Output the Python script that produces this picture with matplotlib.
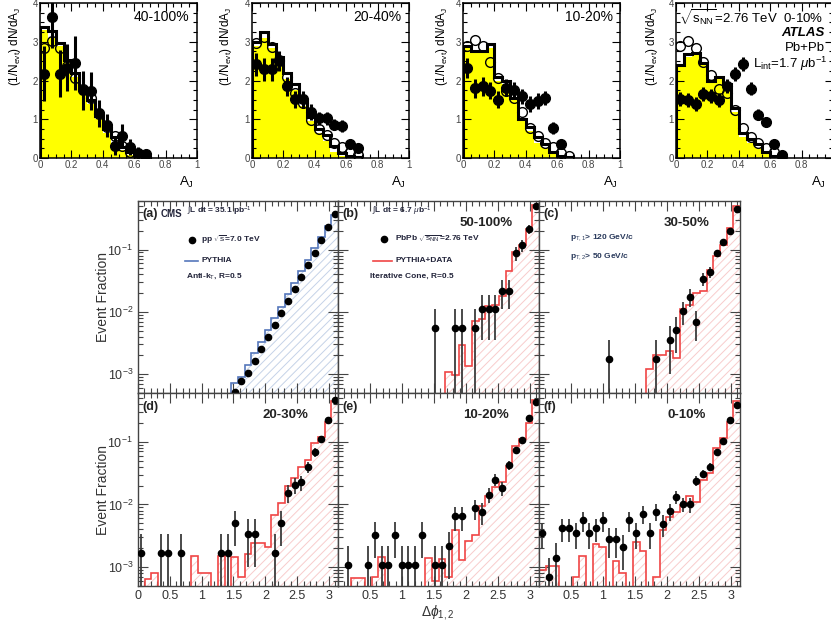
import numpy as np
import matplotlib
matplotlib.use('Agg')
import matplotlib.pyplot as plt
from matplotlib.ticker import MultipleLocator, LogLocator, NullFormatter

plt.rcParams['font.family'] = ['Liberation Sans', 'DejaVu Sans']
plt.rcParams['mathtext.fontset'] = 'custom'
plt.rcParams['mathtext.rm'] = 'Liberation Sans'
plt.rcParams['mathtext.it'] = 'Liberation Sans:italic'
plt.rcParams['mathtext.bf'] = 'Liberation Sans:bold'
plt.rcParams['hatch.linewidth'] = 0.7

W, H = 831, 626

# ---------------- ATLAS dijet asymmetry A_J (top row)
aj_edges = np.linspace(0, 0.7, 15)
atlas_cent = ['40-100%', '20-40%', '10-20%', '0-10%']

pbpb_1 = [2.18, 3.64, 2.18, 2.33, 2.46, 1.75, 1.73, 1.15, 0.84, 0.32, 0.58, 0.28, 0.13, 0.11]
pbpb_err_1 = [0.7, 0.8, 0.6, 0.6, 0.7, 0.5, 0.5, 0.35, 0.3, 0.25, 0.3, 0.2, 0.15, 0.1]
pbpb_2 = [2.42, 2.29, 2.29, 2.50, 1.85, 1.51, 1.51, 1.19, 1.02, 1.02, 0.86, 0.82, 0.37, 0.26]
pbpb_err_2 = [0.3, 0.3, 0.3, 0.25, 0.25, 0.22, 0.22, 0.2, 0.18, 0.18, 0.15, 0.15, 0.12, 0.1]
pbpb_3 = [2.32, 1.80, 1.85, 1.73, 1.50, 1.81, 1.76, 1.59, 1.40, 1.47, 1.55, 0.78, 0.35]
pbpb_err_3 = [0.25, 0.25, 0.25, 0.22, 0.22, 0.22, 0.2, 0.2, 0.2, 0.2, 0.18, 0.15, 0.12]
pbpb_4 = [1.53, 1.49, 1.40, 1.64, 1.59, 1.49, 1.87, 2.17, 2.43, 1.79, 1.12, 0.93, 0.37, 0.09]
pbpb_err_4 = [0.18, 0.18, 0.18, 0.18, 0.18, 0.18, 0.18, 0.18, 0.18, 0.16, 0.14, 0.14, 0.1, 0.06]

pp_1 = [2.85, 3.03, 2.85, 2.38, 2.06, 1.78, 1.56, 1.14, 0.81, 0.56, 0.32, 0.15, 0.09, 0.01]
pp_2 = [2.96, 3.13, 2.87, 2.53, 2.08, 1.68, 1.41, 0.97, 0.76, 0.59, 0.39, 0.28, 0.16, 0.07]
pp_3 = [2.90, 3.05, 2.88, 2.47, 2.06, 1.74, 1.55, 1.18, 0.78, 0.58, 0.39, 0.28, 0.13, 0.05]
pp_4 = [2.88, 3.03, 2.84, 2.47, 2.13, 1.79, 1.67, 1.23, 0.78, 0.54, 0.39, 0.26, 0.15, 0.04]

pythia_1 = [3.38, 3.27, 2.97, 2.52, 2.20, 1.80, 1.50, 1.09, 0.75, 0.54, 0.28, 0.15, 0.07, 0.03]
pythia_2 = [3.00, 3.25, 2.95, 2.60, 2.20, 1.90, 1.50, 1.05, 0.75, 0.60, 0.30, 0.12, 0.05, 0.02]
pythia_3 = [2.90, 2.75, 2.75, 2.93, 2.10, 2.00, 1.55, 1.00, 0.80, 0.55, 0.35, 0.15, 0.05, 0.02]
pythia_4 = [2.40, 2.68, 2.72, 2.45, 2.00, 2.10, 1.90, 1.30, 0.65, 0.50, 0.35, 0.15, 0.05, 0.02]

hijing_1 = [3.30, 3.10, 2.90, 2.45, 2.10, 1.70, 1.40, 1.00, 0.65, 0.35, 0.20, 0.08, 0.0, 0.0]
hijing_2 = [2.90, 3.10, 2.85, 2.45, 2.05, 1.75, 1.35, 0.95, 0.65, 0.45, 0.15, 0.05, 0.0, 0.0]
hijing_3 = [2.85, 2.70, 2.70, 2.85, 2.00, 1.90, 1.50, 0.95, 0.70, 0.40, 0.25, 0.10, 0.0, 0.0]
hijing_4 = [2.35, 2.60, 2.65, 2.40, 1.95, 2.05, 1.85, 1.20, 0.55, 0.40, 0.25, 0.10, 0.0, 0.0]

atlas_pbpb = [pbpb_1, pbpb_2, pbpb_3, pbpb_4]
atlas_pbpb_err = [pbpb_err_1, pbpb_err_2, pbpb_err_3, pbpb_err_4]
atlas_pp = [pp_1, pp_2, pp_3, pp_4]
atlas_pythia = [pythia_1, pythia_2, pythia_3, pythia_4]
atlas_hijing = [hijing_1, hijing_2, hijing_3, hijing_4]

# ---------------- CMS delta phi (bottom block), 30 bins 0..pi
dphi_edges = np.linspace(0, np.pi, 31)
cms_cent = ['', '50-100%', '30-50%', '20-30%', '10-20%', '0-10%']
cms_tag = ['(a)', '(b)', '(c)', '(d)', '(e)', '(f)']
dphi_ticks = [0, 0.5, 1, 1.5, 2, 2.5, 3]
dphi_ticklabels = ['0', '0.5', '1', '1.5', '2', '2.5', '3']

bins_a = [14, 15, 16, 17, 18, 19, 20, 21, 22, 23, 24, 25, 26, 27, 28, 29]
vals_a = [5.2e-4, 7.9e-4, 1.04e-3, 1.63e-3, 2.5e-3, 3.9e-3, 6.2e-3, 9.5e-3, 1.49e-2, 2.32e-2,
          3.6e-2, 5.6e-2, 0.088, 0.14, 0.23, 0.37]
errs_a = [0] * 16
mc_a = [0] * 14 + [7.2e-4, 8.9e-4, 1.4e-3, 2.2e-3, 3.3e-3, 5.1e-3, 7.9e-3, 1.2e-2, 1.9e-2, 2.9e-2,
                   4.5e-2, 0.068, 0.105, 0.16, 0.235, 0.36]

bins_b = [14, 17, 18, 20, 21, 22, 23, 24, 25, 26, 27, 28, 29]
vals_b = [5.5e-3, 5.5e-3, 5.5e-3, 5.5e-3, 1.1e-2, 1.1e-2, 1.1e-2, 2.2e-2, 2.2e-2, 0.087, 0.117, 0.21, 0.49]
errs_b = [5.5e-3, 5.5e-3, 5.5e-3, 5.5e-3, 7.5e-3, 7.5e-3, 7.5e-3, 1.1e-2, 1.1e-2, 0.022, 0.025, 0.034, 0.05]
mc_b = [0] * 16 + [1.07e-3, 9.9e-4, 2.9e-3, 1.35e-3, 7.1e-3, 7.7e-3, 1.24e-2, 1.3e-2, 1.8e-2,
                   4.5e-2, 0.092, 0.12, 0.21, 0.52]

bins_c = [10, 17, 19, 20, 21, 22, 23, 24, 25, 26, 27, 28, 29]
vals_c = [1.74e-3, 1.74e-3, 3.5e-3, 5.2e-3, 1.04e-2, 1.75e-2, 6.9e-3, 3.4e-2, 4.4e-2, 0.087, 0.133, 0.2, 0.44]
errs_c = [1.74e-3, 1.74e-3, 2.5e-3, 3.0e-3, 4.2e-3, 5.5e-3, 3.5e-3, 7.7e-3, 8.7e-3, 0.012, 0.015, 0.019, 0.028]
mc_c = [0] * 16 + [1.2e-3, 2.0e-3, 2.0e-3, 2.35e-3, 1.85e-3, 1.1e-2, 1.3e-2, 2.0e-2, 2.2e-2,
                   4.7e-2, 0.08, 0.12, 0.22, 0.5]

bins_d = [0, 3, 4, 6, 12, 13, 14, 16, 17, 20, 21, 22, 23, 24, 25, 26, 27, 28, 29]
vals_d = [1.7e-3, 1.7e-3, 1.7e-3, 1.7e-3, 1.7e-3, 1.7e-3, 5.1e-3, 3.4e-3, 3.4e-3, 1.7e-3, 5.1e-3,
          1.55e-2, 2.08e-2, 2.24e-2, 0.04, 0.069, 0.109, 0.22, 0.46]
errs_d = [1.7e-3, 1.7e-3, 1.7e-3, 1.7e-3, 1.7e-3, 1.7e-3, 2.9e-3, 2.4e-3, 2.4e-3, 1.7e-3, 2.9e-3,
          5.1e-3, 6.0e-3, 6.2e-3, 8.2e-3, 0.011, 0.014, 0.019, 0.028]
mc_d = [0, 6.5e-4, 8e-4, 0, 0, 0, 0, 0, 1.5e-3, 8e-4, 8e-4, 0, 1.5e-3, 0, 1.45e-3, 7e-4, 1.6e-3,
        2.45e-3, 2.4e-3, 2.1e-3, 6.7e-3, 1.07e-2, 2.0e-2, 2.6e-2, 3.9e-2, 0.051, 0.094, 0.12, 0.21, 0.44]

bins_e = [1, 4, 5, 6, 7, 8, 9, 10, 11, 12, 14, 15, 16, 17, 18, 20, 21, 22, 23, 24, 25, 26, 27, 28, 29]
vals_e = [1.1e-3, 1.1e-3, 3.3e-3, 1.1e-3, 1.1e-3, 3.3e-3, 1.1e-3, 1.1e-3, 1.1e-3, 3.3e-3, 1.1e-3,
          1.1e-3, 2.15e-3, 6.5e-3, 6.5e-3, 8.8e-3, 7.6e-3, 1.44e-2, 2.5e-2, 1.83e-2, 0.043, 0.074,
          0.106, 0.24, 0.436]
errs_e = [1.1e-3, 1.1e-3, 1.9e-3, 1.1e-3, 1.1e-3, 1.9e-3, 1.1e-3, 1.1e-3, 1.1e-3, 1.9e-3, 1.1e-3,
          1.1e-3, 1.5e-3, 2.7e-3, 2.7e-3, 3.1e-3, 2.9e-3, 4.0e-3, 5.2e-3, 4.5e-3, 6.9e-3, 9e-3,
          0.011, 0.016, 0.022]
mc_e = [0, 0, 6.6e-4, 6.6e-4, 0, 6.9e-4, 1.45e-3, 0, 0, 0, 0, 0, 0, 1.4e-3, 6e-4, 1.35e-3, 7e-4,
        3.9e-3, 1.3e-3, 2.6e-3, 3.3e-3, 9.3e-3, 1.35e-2, 1.9e-2, 2.24e-2, 0.041, 0.085, 0.112, 0.2, 0.46]

bins_f = list(range(30))
vals_f = [3.5e-3, 6.9e-4, 1.4e-3, 4.2e-3, 4.2e-3, 3.5e-3, 5.6e-3, 3.5e-3, 4.2e-3, 5.6e-3, 2.8e-3,
          2.8e-3, 2.1e-3, 5.6e-3, 3.5e-3, 7.1e-3, 3.5e-3, 7.7e-3, 4.9e-3, 7.8e-3, 1.32e-2, 1.02e-2,
          1.0e-2, 2.4e-2, 3.1e-2, 0.04, 0.069, 0.103, 0.22, 0.39]
errs_f = [1.55e-3, 6.9e-4, 1.0e-3, 1.7e-3, 1.7e-3, 1.55e-3, 2.0e-3, 1.55e-3, 1.7e-3, 2.0e-3, 1.4e-3,
          1.4e-3, 1.2e-3, 2.0e-3, 1.55e-3, 2.2e-3, 1.55e-3, 2.3e-3, 1.85e-3, 2.3e-3, 3.0e-3, 2.6e-3,
          2.6e-3, 4.1e-3, 4.7e-3, 5.3e-3, 7e-3, 8.5e-3, 0.012, 0.017]
mc_f = [9e-4, 1.05e-3, 1.05e-3, 0, 0, 7e-4, 1.5e-3, 0, 2.35e-3, 2.1e-3, 0, 1.26e-3, 8e-4, 0, 2.5e-3,
        1.8e-3, 0, 7e-4, 3.9e-3, 6.3e-3, 7.7e-3, 9.8e-3, 1.35e-2, 1.1e-2, 2.45e-2, 0.032, 0.081,
        0.113, 0.21, 0.45]

cms_bins = [bins_a, bins_b, bins_c, bins_d, bins_e, bins_f]
cms_vals = [vals_a, vals_b, vals_c, vals_d, vals_e, vals_f]
cms_errs = [errs_a, errs_b, errs_c, errs_d, errs_e, errs_f]
cms_mc = [mc_a, mc_b, mc_c, mc_d, mc_e, mc_f]


fig = plt.figure(figsize=(W / 100, H / 100), dpi=100)


def px_axes(l, t, r, b):
    return fig.add_axes([l / W, 1 - b / H, (r - l) / W, (b - t) / H])


def ftext(x, y, s, **kw):
    fig.text(x / W, 1 - y / H, s, **kw)


# ---- top row
atlas_boxes = [(40, 3, 197, 158), (252, 3, 409, 158), (463, 3, 620, 158), (676, 3, 833, 158)]
ylab_x = [15, 226, 442, 652]
aj_lab_x = [186, 398, 610, 818]
aj_c = 0.5 * (aj_edges[1:] + aj_edges[:-1])

for i in range(4):
    ax = px_axes(*atlas_boxes[i])
    ax.stairs(atlas_hijing[i], aj_edges, fill=True, color='#ffff00', lw=0, zorder=1)
    ax.stairs(atlas_pythia[i], aj_edges, color='k', lw=2.2, zorder=2)
    ax.plot(aj_c, atlas_pp[i], 'o', ms=7, mfc='none', mec='k', mew=1.0, zorder=3)
    n = len(atlas_pbpb[i])
    ax.errorbar(aj_c[:n], atlas_pbpb[i], yerr=atlas_pbpb_err[i], fmt='o', color='k',
                ms=7, elinewidth=2.2, capsize=0, zorder=4)
    ax.set_xlim(0, 1)
    ax.set_ylim(0, 4)
    ax.xaxis.set_minor_locator(MultipleLocator(0.05))
    ax.yaxis.set_minor_locator(MultipleLocator(0.25))
    ax.set_xticks([0, 0.2, 0.4, 0.6, 0.8, 1])
    ax.set_xticklabels(['0', '0.2', '0.4', '0.6', '0.8', '1'])
    ax.set_yticks([0, 1, 2, 3, 4])
    ax.set_yticklabels(['0', '1', '2', '3', '4'])
    ax.tick_params(which='both', direction='in', top=True, right=True, labelsize=7,
                   labelcolor='#444', pad=1.5, width=0.8)
    ax.tick_params(which='major', length=6)
    ax.tick_params(which='minor', length=3)
    for s in ax.spines.values():
        s.set_linewidth(1.1)
    ftext(ylab_x[i], 46, r'(1/N$_{\rm evt}$) dN/dA$_{\rm J}$', rotation=90, fontsize=8.5,
          ha='center', va='center')
    ftext(aj_lab_x[i], 182, r'A$_{\rm J}$', fontsize=9.5, ha='center', va='center')

ftext(189, 17, atlas_cent[0], fontsize=10, ha='right', va='center')
ftext(401, 17, atlas_cent[1], fontsize=10, ha='right', va='center')
ftext(613, 17, atlas_cent[2], fontsize=10, ha='right', va='center')
ftext(823, 18, r'$\sqrt{\rm s_{NN}}$=2.76 TeV  ' + atlas_cent[3], fontsize=9.5, ha='right', va='center')
ftext(825, 33, 'ATLAS', fontsize=9.5, fontweight='bold', style='italic', ha='right', va='center')
ftext(825, 48, 'Pb+Pb', fontsize=9.5, ha='right', va='center')
ftext(827, 64, r'L$_{\rm int}$=1.7 $\mu$b$^{-1}$', fontsize=9.5, ha='right', va='center')

# ---- CMS block
cols = [(138, 338), (338, 539), (539, 740)]
rows = [(201, 393), (393, 586)]
frame_col = '#444444'

for k in range(6):
    r, c = divmod(k, 3)
    ax = px_axes(cols[c][0], rows[r][0], cols[c][1], rows[r][1])
    ax.set_yscale('log')
    ax.set_xlim(0, np.pi)
    ax.set_ylim(5e-4, 0.6)
    line_col = '#5577bb' if k == 0 else '#f04545'
    hatch_col = '#c5d2e8' if k == 0 else '#f8cccc'
    mc = np.array(cms_mc[k], dtype=float)
    mc = np.where(mc > 0, mc, 1e-6)
    ax.stairs(mc, dphi_edges, baseline=1e-6, fill=True, facecolor='none',
              edgecolor=hatch_col, hatch='////', lw=0, zorder=1)
    ax.stairs(mc, dphi_edges, baseline=None, color=line_col, lw=1.2, zorder=2)
    xb = 0.5 * (dphi_edges[np.array(cms_bins[k])] + dphi_edges[np.array(cms_bins[k]) + 1])
    y = np.array(cms_vals[k])
    e = np.array(cms_errs[k])
    lo = np.minimum(e, y - 1e-6)
    ax.errorbar(xb, y, yerr=[lo, e], fmt='o', ms=4.5, mfc='k', mec='k', ecolor='#3c3c3c',
                elinewidth=1.3, capsize=0, zorder=3, clip_on=True)
    ax.yaxis.set_major_locator(LogLocator(base=10))
    ax.yaxis.set_minor_locator(LogLocator(base=10, subs=range(2, 10)))
    ax.yaxis.set_minor_formatter(NullFormatter())
    ax.xaxis.set_minor_locator(MultipleLocator(0.1))
    ax.set_xticks(dphi_ticks)
    if r == 1:
        labs = list(dphi_ticklabels)
        if c > 0:
            labs[0] = ''
        ax.set_xticklabels(labs)
    else:
        ax.set_xticklabels([])
    if c > 0:
        ax.yaxis.set_major_formatter(NullFormatter())
    ax.tick_params(which='both', direction='in', top=True, right=True, labelsize=9,
                   labelcolor='#333333', color=frame_col, width=0.8)
    ax.tick_params(which='major', length=7)
    ax.tick_params(which='minor', length=3.5)
    ax.tick_params(axis='x', pad=3)
    for s in ax.spines.values():
        s.set_color(frame_col)
        s.set_linewidth(1.0)
    ax.text(0.02, 0.93, cms_tag[k], transform=ax.transAxes, fontsize=9, fontweight='bold',
            color='#222222', ha='left', va='center')
    if cms_cent[k]:
        ax.text(0.735, 0.885, cms_cent[k], transform=ax.transAxes, fontsize=9.5,
                fontweight='bold', color='#222222', ha='center', va='center')

ftext(103, 297, 'Event Fraction', rotation=90, fontsize=10, color='#333333', ha='center', va='center')
ftext(103, 490, 'Event Fraction', rotation=90, fontsize=10, color='#333333', ha='center', va='center')
ftext(438, 613, r'$\Delta\phi_{1,2}$', fontsize=10, color='#333333', ha='center', va='center')

leg_col = '#22243a'
ftext(161, 214, 'CMS', fontsize=7, fontweight='bold', color=leg_col, va='center')
ftext(187, 211, r'$\int$L dt = 35.1 pb$^{-1}$', fontsize=6, fontweight='bold', color=leg_col, va='center')
ftext(201, 240, r'pp $\sqrt{\rm s}$=7.0 TeV', fontsize=6, fontweight='bold', color=leg_col, va='center')
ftext(201, 261, 'PYTHIA', fontsize=6, fontweight='bold', color=leg_col, va='center')
ftext(186, 276, r'Anti-k$_{\rm T}$, R=0.5', fontsize=6, fontweight='bold', color=leg_col, va='center')
ftext(372, 211, r'$\int$L dt = 6.7 $\mu$b$^{-1}$', fontsize=6, fontweight='bold', color=leg_col, va='center')
ftext(395, 239, r'PbPb $\sqrt{\rm s_{NN}}$=2.76 TeV', fontsize=6, fontweight='bold', color=leg_col, va='center')
ftext(395, 261, 'PYTHIA+DATA', fontsize=6, fontweight='bold', color=leg_col, va='center')
ftext(370, 276, 'Iterative Cone, R=0.5', fontsize=6, fontweight='bold', color=leg_col, va='center')
ftext(570, 238, r'p$_{\rm T,1}$> 120 GeV/c', fontsize=6, fontweight='bold', color='#2a3a5c', va='center')
ftext(570, 257, r'p$_{\rm T,2}$> 50 GeV/c', fontsize=6, fontweight='bold', color='#2a3a5c', va='center')

# legend markers drawn in figure pixel space
lax = fig.add_axes([0, 0, 1, 1], facecolor='none')
lax.set_xlim(0, W)
lax.set_ylim(H, 0)
lax.axis('off')
lax.plot([192], [240], 'o', ms=4.5, color='k')
lax.plot([384], [239], 'o', ms=4.5, color='k')
lax.plot([185, 198], [261, 261], color='#5577bb', lw=1.2)
lax.plot([373, 392], [261, 261], color='#f04545', lw=1.2)

fig.savefig('out.png', dpi=100)
